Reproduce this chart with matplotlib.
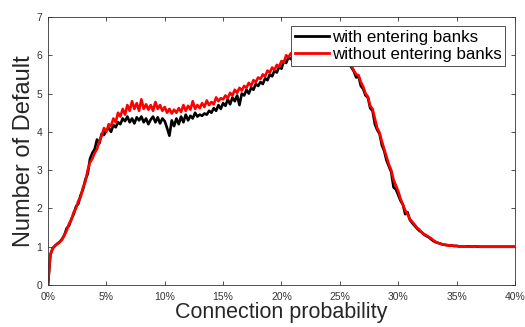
import numpy as np
import matplotlib
matplotlib.use("Agg")
import matplotlib.pyplot as plt

plt.rcParams['font.family'] = ['Liberation Sans', 'DejaVu Sans']

# connection probability in percent, 0.2% steps
prob = np.arange(0, 40.0001, 0.2)

# number of defaults, with entering banks
with_entering = [
    0, 0.78, 0.96, 1.02, 1.08, 1.12,
    1.2, 1.3, 1.48, 1.55, 1.72,
    1.85, 2.05, 2.12, 2.35, 2.5,
    2.75, 2.9, 3.3, 3.45, 3.55,
    3.8, 3.7, 3.95, 3.92, 4.05,
    4.1, 4.0, 4.18, 4.12, 4.25,
    4.2, 4.35, 4.28, 4.4, 4.25,
    4.35, 4.22, 4.38, 4.3, 4.4,
    4.25, 4.35, 4.2, 4.32, 4.4,
    4.25, 4.38, 4.22, 4.35, 4.28,
    4.1, 3.9, 4.3, 4.15, 4.35,
    4.2, 4.4, 4.25, 4.45, 4.3,
    4.42, 4.35, 4.5, 4.4, 4.45,
    4.42, 4.48, 4.45, 4.55, 4.5,
    4.62, 4.55, 4.7, 4.6, 4.75,
    4.68, 4.85, 4.72, 4.9, 4.8,
    4.95, 4.7, 5.0, 4.95, 5.1,
    5.0, 5.15, 5.1, 5.25, 5.2,
    5.3, 5.25, 5.4, 5.35, 5.5,
    5.45, 5.6, 5.55, 5.7, 5.65,
    5.85, 5.8, 5.95, 5.9, 6.0,
    6.02, 6.08, 6.1, 6.15, 6.18,
    6.22, 6.25, 6.3, 6.32, 6.35,
    6.38, 6.4, 6.42, 6.44, 6.45,
    6.44, 6.42, 6.38, 6.3, 6.22,
    6.12, 6.02, 5.9, 5.78, 5.68,
    5.58, 5.42, 5.45, 5.2, 5.12,
    4.95, 4.9, 4.62, 4.55, 4.2,
    4.05, 3.95, 3.65, 3.5, 3.25,
    3.1, 2.95, 2.55, 2.5, 2.35,
    2.2, 2.1, 1.85, 1.9, 1.7,
    1.62, 1.55, 1.48, 1.42, 1.38,
    1.32, 1.28, 1.25, 1.2, 1.15,
    1.12, 1.1, 1.08, 1.06, 1.05,
    1.04, 1.03, 1.03, 1.02, 1.02,
    1.01, 1.01, 1.01, 1.01, 1.01,
    1.01, 1.0, 1.01, 1.0, 1.0,
    1.0, 1.0, 1.0, 1.0, 1.0,
    1.0, 1.0, 1.0, 1.0, 1.0,
    1.0, 1.0, 1.0, 1.0, 1.0,
]

# number of defaults, without entering banks
without_entering = [
    0, 0.8, 0.95, 1.03, 1.07, 1.13,
    1.18, 1.3, 1.42, 1.6, 1.7,
    1.9, 2.0, 2.2, 2.3, 2.55,
    2.7, 3.0, 3.2, 3.3, 3.45,
    3.55, 3.75, 3.9, 4.1, 4.0,
    4.2, 4.15, 4.35, 4.25, 4.5,
    4.4, 4.6, 4.45, 4.7, 4.55,
    4.8, 4.6, 4.75, 4.55, 4.85,
    4.6, 4.72, 4.58, 4.7, 4.55,
    4.78, 4.6, 4.7, 4.55, 4.65,
    4.5, 4.6, 4.48, 4.58, 4.5,
    4.62, 4.52, 4.7, 4.55, 4.68,
    4.58, 4.8, 4.6, 4.7, 4.62,
    4.75, 4.65, 4.82, 4.7, 4.78,
    4.72, 4.9, 4.8, 4.88, 4.85,
    4.95, 4.88, 5.02, 4.95, 5.1,
    5.02, 5.15, 5.08, 5.2, 5.15,
    5.28, 5.2, 5.35, 5.3, 5.42,
    5.38, 5.5, 5.45, 5.6, 5.55,
    5.68, 5.62, 5.75, 5.7, 5.85,
    5.8, 6.0, 5.95, 6.05, 6.08,
    6.1, 6.12, 6.16, 6.2, 6.22,
    6.26, 6.28, 6.32, 6.35, 6.38,
    6.4, 6.42, 6.44, 6.46, 6.47,
    6.46, 6.44, 6.4, 6.33, 6.25,
    6.15, 6.05, 5.95, 5.83, 5.72,
    5.6, 5.5, 5.48, 5.3, 5.18,
    5.0, 4.92, 4.68, 4.6, 4.35,
    4.1, 3.98, 3.75, 3.55, 3.35,
    3.15, 3.0, 2.75, 2.6, 2.45,
    2.25, 2.1, 1.95, 1.85, 1.72,
    1.65, 1.58, 1.5, 1.45, 1.38,
    1.33, 1.3, 1.26, 1.22, 1.17,
    1.13, 1.1, 1.08, 1.06, 1.05,
    1.04, 1.03, 1.03, 1.02, 1.02,
    1.01, 1.01, 1.01, 1.01, 1.0,
    1.01, 1.0, 1.0, 1.01, 1.0,
    1.0, 1.0, 1.0, 1.0, 1.0,
    1.0, 1.0, 1.0, 1.0, 1.0,
    1.0, 1.0, 1.0, 1.0, 1.0,
]

xticks = [0, 5, 10, 15, 20, 25, 30, 35, 40]
xticklabels = ['0%', '5%', '10%', '15%', '20%', '25%', '30%', '35%', '40%']
yticks = [0, 1, 2, 3, 4, 5, 6, 7]

fig = plt.figure(figsize=(5.25, 3.27), dpi=100)
ax = fig.add_axes([0.0914, 0.1284, 0.8895, 0.8196])

ax.plot(prob, with_entering, color='black', lw=1.9, label='with entering banks')
ax.plot(prob, without_entering, color='red', lw=1.9, label='without entering banks')

ax.set_xlim(0, 40)
ax.set_ylim(0, 7)
ax.set_xticks(xticks)
ax.set_xticklabels(xticklabels)
ax.set_yticks(yticks)
ax.tick_params(direction='in', top=True, right=True, labelsize=7.5, colors='#333333',
               length=3, width=0.6)
ax.tick_params(axis='x', pad=5)
ax.tick_params(axis='y', pad=4)
for s in ax.spines.values():
    s.set_color('#333333')
    s.set_linewidth(0.6)

ax.set_xlabel('Connection probability', fontsize=15.5, color='#262626', labelpad=0)
ax.set_ylabel('Number of Default', fontsize=17, color='#262626', labelpad=1)

leg = ax.legend(loc='upper right', bbox_to_anchor=(0.979, 0.965), fontsize=12.2,
                frameon=True, fancybox=False, handlelength=2.0, handletextpad=0.2,
                borderpad=0.2, labelspacing=0.15, borderaxespad=0)
leg.get_frame().set_edgecolor('#333333')
leg.get_frame().set_linewidth(0.6)
leg.get_frame().set_alpha(1)
for h in leg.get_lines():
    h.set_linewidth(2)

fig.savefig('out.png', dpi=100)
